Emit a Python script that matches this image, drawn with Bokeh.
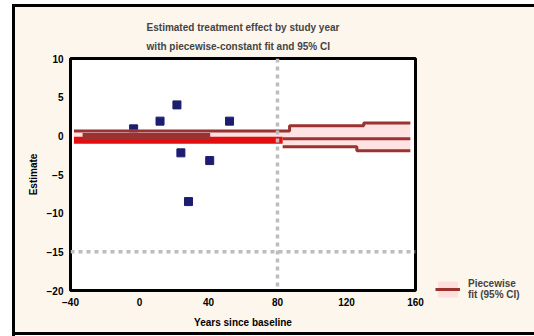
from bokeh.plotting import figure
from bokeh.models import Span, Legend, LegendItem, Range1d, FixedTicker
from bokeh.embed import file_html
from bokeh.resources import INLINE

# ---- data ----
x_ticks = [-40, 0, 40, 80, 120, 160]
y_ticks = [-20, -15, -10, -5, 0, 5, 10]

obs_x = [21.7, 11.9, 52.2, -3.4, 24.0, 40.7, 28.4]
obs_y = [4.0, 1.9, 1.9, 0.9, -2.2, -3.2, -8.5]

upper_x = [-38, 87, 130, 157]
upper_y = [0.64, 1.29, 1.67, 1.67]
mid_x = [83, 157]
mid_y = [-0.39, -0.39]
lower_x = [83, 126, 157]
lower_y = [-1.42, -1.93, -1.93]
fit_x = [-38, 83]
fit_y = [-0.58, -0.58]
early_x = [-33, 41]
early_y = [-0.1, -0.1]
band_x = [-38, 83, 87, 126, 130, 157]
band_lo = [-0.75, -1.42, -1.42, -1.93, -1.93, -1.93]
band_hi = [0.8, 0.8, 1.35, 1.35, 1.75, 1.75]

ref_x = 80
ref_y = -15

title_1 = "Estimated treatment effect by study year"
title_2 = "with piecewise-constant fit and 95% CI"
x_label = "Years since baseline"
y_label = "Estimate"
legend_label = "Piecewise\nfit (95% CI)"

BG = "#fdf6ec"
DARK = "#9b3232"
BRIGHT = "#e10f0f"
FONT = "Liberation Sans"

p = figure(frame_width=345, frame_height=232, output_backend="svg", toolbar_location=None,
           x_range=Range1d(-40, 160), y_range=Range1d(-20, 10),
           min_border_left=70, min_border_right=119, min_border_top=58, min_border_bottom=46,
           background_fill_color="white", border_fill_color=BG, border_fill_alpha=0)
p.styles = {"background-color": BG,
            "box-shadow": ("inset 12px 4px 0 0 white, inset 15px 7px 0 0 black, "
                           "inset 0 -1px 0 0 white, inset 0 -4px 0 0 black")}

p.outline_line_color = "black"
p.outline_line_width = 3
p.xgrid.grid_line_color = None
p.ygrid.grid_line_color = None

for ax in (p.xaxis[0], p.yaxis[0]):
    ax.axis_line_color = None
    ax.major_tick_line_color = None
    ax.minor_tick_line_color = None
    ax.major_label_text_font = FONT
    ax.major_label_text_font_style = "bold"
    ax.major_label_text_font_size = "10px"
    ax.major_label_text_color = "black"
    ax.axis_label_text_font = FONT
    ax.axis_label_text_font_style = "bold"
    ax.axis_label_text_font_size = "10px"
    ax.axis_label_text_color = "black"
p.xaxis.ticker = FixedTicker(ticks=x_ticks)
p.yaxis.ticker = FixedTicker(ticks=y_ticks)
p.xaxis.major_label_standoff = 1
p.yaxis.major_label_standoff = 1
p.xaxis.axis_label = x_label
p.yaxis.axis_label = y_label
p.xaxis.axis_label_standoff = 8
p.yaxis.axis_label_standoff = 5

p.add_layout(Span(location=ref_x, dimension="height", line_color="#bdbdbd",
                  line_width=3.5, line_dash="4 4"))
p.add_layout(Span(location=ref_y, dimension="width", line_color="#bdbdbd",
                  line_width=3.5, line_dash="4 4"))

p.scatter(obs_x, obs_y, marker="square", size=8, color="#1c1c70")

band = p.varea_step(x=band_x, y1=band_lo, y2=band_hi, step_mode="after",
                    fill_color="#ffd6d6", fill_alpha=0.7)
p.line(fit_x, fit_y, line_color=BRIGHT, line_width=7)
p.line(early_x, early_y, line_color=DARK, line_width=7)
up = p.step(upper_x, upper_y, mode="after", line_color=DARK, line_width=3)
p.step(mid_x, mid_y, mode="after", line_color=DARK, line_width=3)
p.step(lower_x, lower_y, mode="after", line_color=DARK, line_width=3)

legend = Legend(items=[LegendItem(label=legend_label, renderers=[band, up])],
                location=(20, -10), padding=0, margin=0, glyph_width=25,
                label_standoff=8, border_line_color=None, background_fill_alpha=0,
                label_text_font=FONT, label_text_font_style="bold",
                label_text_font_size="10px")
p.add_layout(legend, "right")

p.title.text = title_1 + "\n" + title_2
p.title.align = "center"
p.title.vertical_align = "top"
p.title.text_font = FONT
p.title.text_font_style = "bold"
p.title.text_font_size = "10px"
p.title.text_line_height = 1.75
p.title.standoff = 10

open("out.html", "w").write(file_html(p, INLINE))
